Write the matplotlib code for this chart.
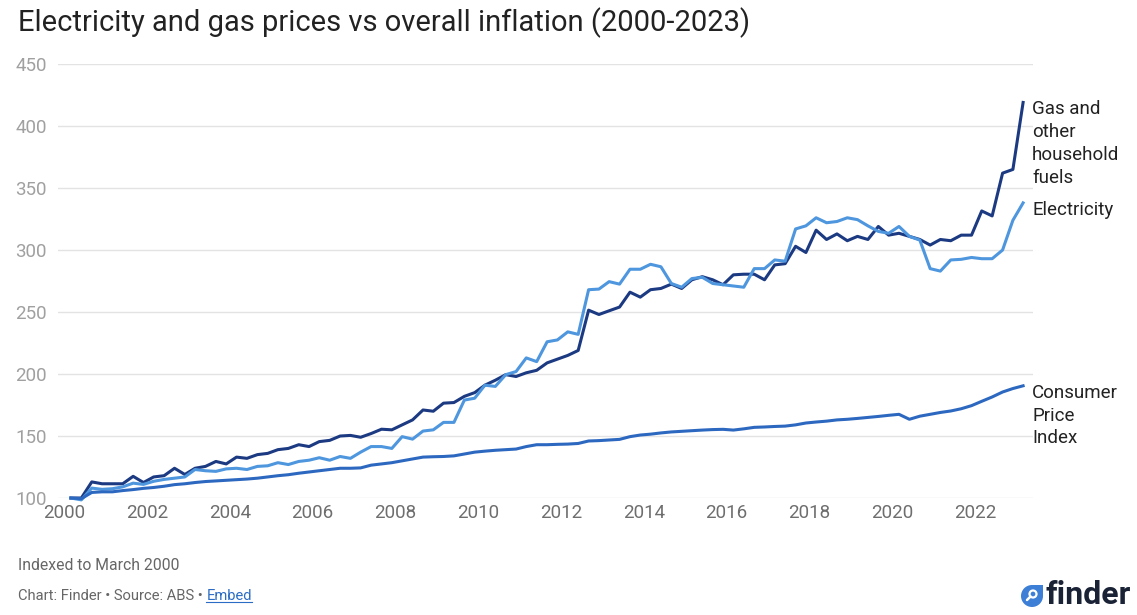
import matplotlib
matplotlib.use('Agg')
import matplotlib.pyplot as plt
import matplotlib.dates as mdates
import matplotlib.patches as patches
import pandas as pd

plt.rcParams['font.family'] = ['Roboto', 'DejaVu Sans']

# quarterly index values, March 2000 = 100
quarters = pd.date_range('2000-03-01', periods=93, freq='3MS')

gas = [100, 100, 113, 111.5, 111.5, 111.5, 117.5, 112.5, 117, 118,
       124, 119, 124, 125.5, 129.5, 127.5, 133, 132, 135, 136,
       139, 140, 143, 141.5, 145.5, 146.5, 150, 150.5, 149, 152,
       155.5, 155, 159, 163, 171, 170, 176.5, 177, 182, 185,
       191, 195, 199.5, 198, 201, 203, 209, 212, 215, 219,
       251.5, 248, 251, 254, 266, 262, 268, 269, 272.5, 269,
       276, 278.5, 276, 272, 280, 280.5, 280.5, 276, 288, 289,
       303, 298, 316, 308.5, 313, 307.5, 311, 308.5, 319, 312,
       313.5, 311, 308.5, 304, 308.5, 307.5, 312, 312, 331.5, 327.5,
       362, 365, 419]

electricity = [100, 98.5, 108, 107, 107.5, 109, 112, 111, 113.5, 115,
               116, 117, 123, 122, 121.5, 123.5, 124, 123, 125.5, 126,
               128.5, 127, 129.5, 130.5, 132.5, 130.5, 133.5, 132, 137, 141.5,
               141.5, 140, 149.5, 147.5, 154, 155, 161, 161, 179, 180.5,
               191, 190, 199.5, 202, 213, 210, 226, 227.5, 234, 232,
               268, 268.5, 274.5, 272.5, 284.5, 284.5, 288.5, 286.5, 273, 270,
               277, 278, 273, 272, 271, 270, 285, 285, 292, 291,
               317, 319.5, 326, 322, 323, 326, 324.5, 319.5, 315, 313.5,
               319, 311, 308, 285, 283, 292, 292.5, 294, 293, 293,
               300, 324, 338]

cpi = [100, 99.5, 104.5, 105, 105, 106, 106.8, 107.8, 108.5, 109.5,
       110.8, 111.5, 112.5, 113.3, 113.8, 114.3, 114.8, 115.3, 116, 117,
       118, 118.8, 120, 121, 122, 123, 124, 124, 124.3, 126.5,
       127.5, 128.5, 130, 131.5, 133, 133.3, 133.5, 134, 135.5, 137,
       137.8, 138.5, 139, 139.5, 141.5, 143, 143, 143.3, 143.5, 144,
       146, 146.3, 146.8, 147.3, 149.5, 150.8, 151.5, 152.5, 153.3, 153.8,
       154.3, 154.8, 155.2, 155.4, 154.8, 155.8, 157, 157.3, 157.7, 158,
       159, 160.5, 161.3, 162, 163, 163.5, 164.2, 165, 165.8, 166.7,
       167.5, 163.5, 166, 167.5, 169, 170.2, 172, 174.5, 178, 181.5,
       185.5, 188.3, 190.5]

series = [
    ('Gas and\nother\nhousehold\nfuels', gas, '#1c3a82'),
    ('Electricity', electricity, '#4e96de'),
    ('Consumer\nPrice\nIndex', cpi, '#2d68c0'),
]

W, H = 1137, 615
fig = plt.figure(figsize=(W / 100, H / 100), dpi=100)
ax = fig.add_axes([0.051, 0.1902, 0.8575, 0.7057])

for label, vals, col in series:
    ax.plot(quarters, vals, color=col, lw=2.2, clip_on=False, zorder=3,
            solid_joinstyle='round')
    ax.annotate(label, xy=(quarters[-1], vals[-1]), xytext=(9, 2),
                textcoords='offset pixels', va='top', ha='left',
                fontsize=13.5, color='#222222', linespacing=1.34,
                annotation_clip=False)

ax.set_ylim(100, 450)
ax.set_yticks(range(100, 451, 50))
ax.set_xlim(pd.Timestamp('1999-11-08'), pd.Timestamp('2023-05-27'))
ax.xaxis.set_major_locator(mdates.YearLocator(2))
ax.xaxis.set_major_formatter(mdates.DateFormatter('%Y'))

ax.grid(axis='y', color='#e3e3e3', lw=1)
ax.set_axisbelow(True)
for s in ax.spines.values():
    s.set_visible(False)
ax.tick_params(axis='both', length=0)
ax.tick_params(axis='y', labelsize=13.5, labelcolor='#a0a0a0', pad=8)
ax.tick_params(axis='x', labelsize=13.5, labelcolor='#6e6e6e', pad=4)

fig.text(18 / W, 1 - 23 / H, 'Electricity and gas prices vs overall inflation (2000-2023)',
         fontsize=21, color='#222222', va='center', ha='left')

fig.text(18 / W, 1 - 565 / H, 'Indexed to March 2000',
         fontsize=11.3, color='#666666', va='center', ha='left')

src = fig.text(18 / W, 1 - 596 / H, 'Chart: Finder \u2022 Source: ABS \u2022 ',
               fontsize=10.6, color='#666666', va='center', ha='left')
fig.canvas.draw()
bb = src.get_window_extent()
emb = fig.text(bb.x1 / W, 1 - 596 / H, 'Embed', fontsize=10.6, color='#2b6cc4',
               va='center', ha='left')
fig.canvas.draw()
eb = emb.get_window_extent()
fig.add_artist(plt.Line2D([eb.x0 / W, eb.x1 / W], [eb.y0 / H + 0.002] * 2,
                          color='#2b6cc4', lw=0.8))

# finder logo: drop-shaped blue icon with a magnifier, then the word
blue = '#3d7fd6'
fig.add_artist(patches.Ellipse((1032 / W, 1 - 596 / H), 22 / W, 22 / H,
                               transform=fig.transFigure, color=blue, lw=0))
fig.add_artist(patches.Rectangle((1032 / W, 1 - 596 / H), 11 / W, 11 / H,
                                 transform=fig.transFigure, color=blue, lw=0))
fig.add_artist(patches.Ellipse((1033 / W, 1 - 594 / H), 7 / W, 7 / H,
                               transform=fig.transFigure, fill=False,
                               edgecolor='white', lw=1.6))
fig.add_artist(plt.Line2D([1030.5 / W, 1027 / W], [1 - 596.5 / H, 1 - 600 / H],
                          color='white', lw=1.8, solid_capstyle='round'))
fig.text(1046 / W, 1 - 595 / H, 'finder', fontsize=23, fontweight='bold',
         color='#1a2236', va='center', ha='left')

fig.savefig('out.png', dpi=100)
